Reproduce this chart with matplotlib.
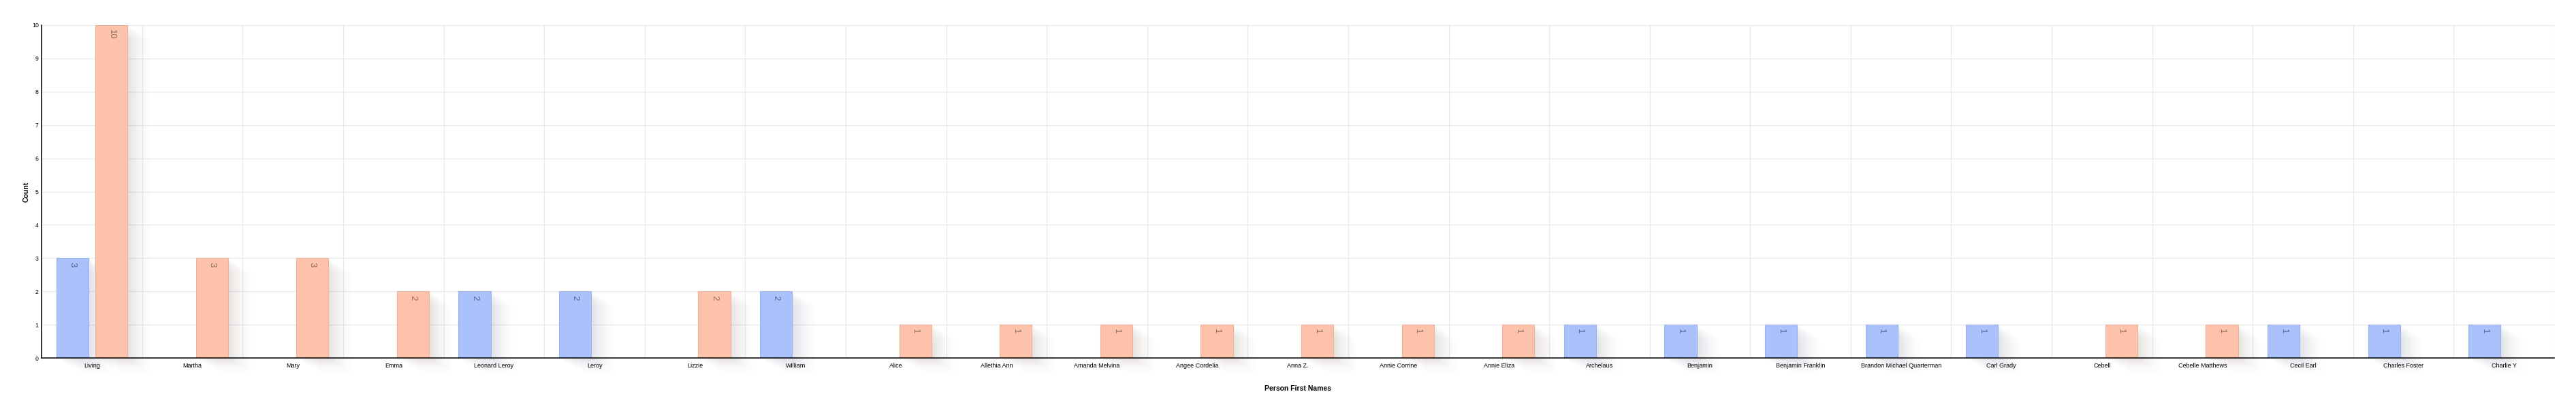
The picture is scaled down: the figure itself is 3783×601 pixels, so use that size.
import matplotlib
matplotlib.use("Agg")
import matplotlib.pyplot as plt
import numpy as np

# category names along the x axis
names = ["Living", "Martha", "Mary", "Emma", "Leonard Leroy", "Leroy", "Lizzie",
         "William", "Alice", "Allethia Ann", "Amanda Melvina", "Angee Cordelia",
         "Anna Z.", "Annie Corrine", "Annie Eliza", "Archelaus", "Benjamin",
         "Benjamin Franklin", "Brandon Michael Quarterman", "Carl Grady", "Cebell",
         "Cebelle Matthews", "Cecil Earl", "Charles Foster", "Charlie Y"]

# counts per series (blue = male, salmon = female)
male = [3, 0, 0, 0, 2, 2, 0, 2, 0, 0, 0, 0, 0, 0, 0, 1, 1, 1, 1, 1, 0, 0, 1, 1, 1]
female = [10, 3, 3, 2, 0, 0, 2, 0, 1, 1, 1, 1, 1, 1, 1, 0, 0, 0, 0, 0, 1, 1, 0, 0, 0]

plt.rcParams['font.family'] = ['Liberation Sans', 'DejaVu Sans']

W, H = 3783, 601
fig = plt.figure(figsize=(W / 100, H / 100), dpi=100)
ax = fig.add_axes([61.3 / W, 1 - 526 / H, (3751 - 61.3) / W, 489 / H])

x = np.arange(len(names))
off = 0.193
bw = 0.32

series = [
    (np.array(male), -off, '#abc1fc', '#9eb2ea', '#8e96b4', '#56628c'),
    (np.array(female), off, '#fdc2aa', '#ecb29c', '#a8968e', '#8a6c62'),
]

# pixel -> data conversion for the flat shadows
px_x = 1 / 147.6
px_y = 10 / 489.0
n_sh = 18
for vals, dx, face, edge, shcol, txtcol in series:
    m = vals > 0
    xs = x[m] + dx
    hs = vals[m]
    # soft diagonal shadow: shifted copies that fade out
    for k in range(1, n_sh + 1):
        t = k / n_sh
        ax.bar(xs + t * 42 * px_x, hs, width=bw, bottom=-t * 26 * px_y,
               color=shcol, alpha=0.03 * (1 - t) ** 1.3, linewidth=0,
               zorder=1, clip_on=False)
    bars = ax.bar(xs, hs, width=bw, color=face, edgecolor=edge, linewidth=0.8,
                  zorder=3)
    for b, v in zip(bars, hs):
        ax.annotate(str(v), (b.get_x() + b.get_width() / 2, b.get_height()),
                    xytext=(0, -4), textcoords='offset points',
                    ha='center', va='top', rotation=-90, fontsize=9.5,
                    color=txtcol, zorder=4)

ax.set_xlim(-0.5, len(names) - 0.5)
ax.set_ylim(0, 10)
ax.set_yticks(range(0, 11))
ax.set_xticks(x)
ax.set_xticklabels(names, fontsize=6.5)
ax.set_xticks(np.arange(-0.5, len(names)), minor=True)
ax.tick_params(axis='both', which='both', length=0)
ax.tick_params(axis='x', pad=5)
ax.tick_params(axis='y', labelsize=6.3, pad=3.3)

ax.grid(True, axis='y', color='#e9e9e9', linewidth=0.9, zorder=0)
ax.grid(True, axis='x', which='minor', color='#e9e9e9', linewidth=0.9, zorder=0)
ax.grid(False, axis='x', which='major')
ax.set_axisbelow(True)

for s in ['top', 'right']:
    ax.spines[s].set_visible(False)
ax.spines['left'].set_linewidth(1.1)
ax.spines['bottom'].set_linewidth(1.1)
ax.spines['bottom'].set_zorder(5)

ax.set_ylabel('Count', fontsize=7.6, fontweight='bold', labelpad=2)
ax.set_xlabel('Person First Names', fontsize=7.5, fontweight='bold', labelpad=17)

fig.savefig('out.png', dpi=100, facecolor='white')
